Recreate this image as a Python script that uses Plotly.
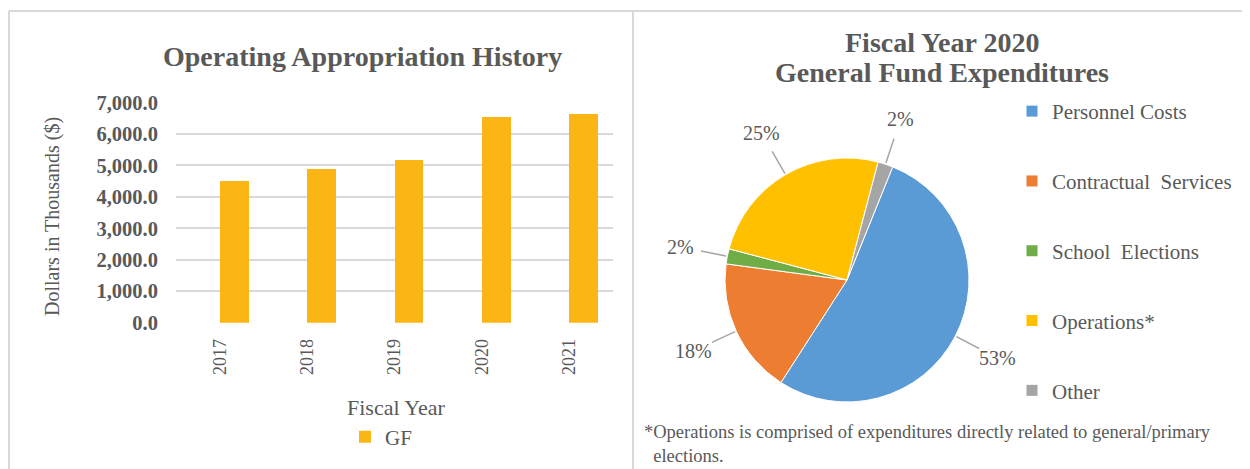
import math
import plotly.graph_objects as go

# ---------------- data ----------------
years = ["2017", "2018", "2019", "2020", "2021"]
gf_values = [4510, 4910, 5180, 6550, 6640]
bar_series_name = "GF"

pie_labels = ["Personnel Costs", "Contractual\u00a0 Services", "School\u00a0 Elections", "Operations*", "Other"]
pie_values = [53, 18, 2, 25, 2]
pie_colors = ["#5B9BD5", "#ED7D31", "#70AD47", "#FFC000", "#A5A5A5"]

y_ticks = [0, 1000, 2000, 3000, 4000, 5000, 6000, 7000]

bar_title = "Operating Appropriation History"
pie_title_1 = "Fiscal Year 2020"
pie_title_2 = "General Fund Expenditures"
footnote_1 = "*Operations is comprised of expenditures directly related to general/primary"
footnote_2 = "elections."

# ---------------- layout helpers ----------------
W, H = 1250, 469
OFF = 8  # page body margin of the html page
FONT = "Liberation Serif, Times New Roman, serif"
GRAY = "#595959"
BORDER = "#D9D9D9"


def px(x):
    return (x - OFF) / W


def py(y):
    return 1 - (y - OFF) / H


fig = go.Figure()

# bar chart
fig.add_trace(go.Bar(
    x=years, y=gf_values, name=bar_series_name,
    marker=dict(color="#FBB616", line=dict(width=0)),
    width=0.33, offset=0,
    legend="legend", showlegend=True,
    hoverinfo="x+y",
))

# pie chart
rotation = 22
cx, cy, r = 847, 280, 122
fig.add_trace(go.Pie(
    labels=pie_labels, values=pie_values, sort=False,
    direction="clockwise", rotation=rotation,
    marker=dict(colors=pie_colors, line=dict(color="white", width=1)),
    textinfo="none", showlegend=False,
    domain=dict(x=[px(cx - r), px(cx + r)], y=[py(cy + r), py(cy - r)]),
))

# legend entries for pie (one group each so they can be spaced)
for lab, col in zip(pie_labels, pie_colors):
    fig.add_trace(go.Scatter(
        x=[None], y=[None], mode="markers", name=lab,
        marker=dict(symbol="square", size=11, color=col),
        legend="legend2", legendgroup=lab, showlegend=True,
        xaxis="x2", yaxis="y2",
    ))

annotations = []
shapes = []

# pie percentage labels and leader lines computed from data
total = sum(pie_values)
cum = 0.0
for v in pie_values:
    mid = rotation + (cum + v / 2) / total * 360
    cum += v
    a = math.radians(mid)
    sx, sy = math.sin(a), -math.cos(a)
    lx, ly = cx + 1.39 * r * sx, cy + 1.39 * r * sy
    annotations.append(dict(
        x=px(lx), y=py(ly), xref="paper", yref="paper",
        text=f"{round(v / total * 100)}%", showarrow=False,
        font=dict(family=FONT, size=20, color=GRAY),
        xanchor="center", yanchor="middle",
    ))
    shapes.append(dict(
        type="line", xref="paper", yref="paper",
        x0=px(cx + 1.01 * r * sx), y0=py(cy + 1.01 * r * sy),
        x1=px(cx + 1.22 * r * sx), y1=py(cy + 1.22 * r * sy),
        line=dict(color="#A6A6A6", width=1.5),
    ))

# titles and text
annotations += [
    dict(x=px(363), y=py(57), text=f"<b>{bar_title}</b>", showarrow=False,
         xref="paper", yref="paper", xanchor="center", yanchor="middle",
         font=dict(family=FONT, size=28, color=GRAY)),
    dict(x=px(942), y=py(42), text=f"<b>{pie_title_1}</b>", showarrow=False,
         xref="paper", yref="paper", xanchor="center", yanchor="middle",
         font=dict(family=FONT, size=28, color=GRAY)),
    dict(x=px(942), y=py(72), text=f"<b>{pie_title_2}</b>", showarrow=False,
         xref="paper", yref="paper", xanchor="center", yanchor="middle",
         font=dict(family=FONT, size=28, color=GRAY)),
    dict(x=px(52), y=py(217), text="Dollars in Thousands ($)", showarrow=False,
         textangle=-90, xref="paper", yref="paper", xanchor="center", yanchor="middle",
         font=dict(family=FONT, size=20, color=GRAY)),
    dict(x=px(396), y=py(407), text="Fiscal Year", showarrow=False,
         xref="paper", yref="paper", xanchor="center", yanchor="middle",
         font=dict(family=FONT, size=22, color=GRAY)),
    dict(x=px(642), y=py(468),
         text=footnote_1 + "<br>\u00a0\u00a0" + footnote_2, showarrow=False,
         xref="paper", yref="paper", xanchor="left", yanchor="bottom", align="left",
         font=dict(family=FONT, size=18.5, color=GRAY)),
]

# panel frames
frame = dict(color=BORDER, width=2)
shapes += [
    dict(type="line", xref="paper", yref="paper", x0=px(9), y0=py(480), x1=px(9), y1=py(11), line=frame),
    dict(type="line", xref="paper", yref="paper", x0=px(9), y0=py(11), x1=px(1260), y1=py(11), line=frame),
    dict(type="line", xref="paper", yref="paper", x0=px(633), y0=py(480), x1=px(633), y1=py(11), line=frame),
]

fig.update_layout(
    width=W, height=H, autosize=False,
    margin=dict(l=0, r=0, t=0, b=0, autoexpand=False),
    paper_bgcolor="white", plot_bgcolor="white",
    font=dict(family=FONT, color=GRAY),
    xaxis=dict(
        domain=[px(176), px(613)], type="category",
        categoryorder="array", categoryarray=years,
        tickangle=-90, tickfont=dict(family=FONT, size=18, color=GRAY),
        ticks="outside", ticklen=8, tickcolor="rgba(0,0,0,0)",
        showgrid=False, showline=False, zeroline=False,
    ),
    yaxis=dict(
        domain=[py(322.7), py(102.5)], range=[0, 7000],
        tickvals=y_ticks, tickformat=",.1f",
        tickfont=dict(family=FONT, size=20.5, color=GRAY, weight="bold"),
        ticks="outside", ticklen=13, tickcolor="rgba(0,0,0,0)",
        showgrid=True, gridcolor=BORDER, gridwidth=2,
        zeroline=False, showline=False,
    ),
    xaxis2=dict(domain=[0.98, 0.99], visible=False, anchor="y2"),
    yaxis2=dict(domain=[0.98, 0.99], visible=False, anchor="x2"),
    legend=dict(
        x=px(345), y=py(437), xanchor="left", yanchor="middle",
        orientation="h", font=dict(family=FONT, size=21, color=GRAY),
        bgcolor="rgba(0,0,0,0)",
    ),
    legend2=dict(
        x=px(1012), y=py(91), xanchor="left", yanchor="top",
        orientation="v", font=dict(family=FONT, size=21, color=GRAY),
        tracegroupgap=39.5, bgcolor="rgba(0,0,0,0)",
    ),
    annotations=annotations,
    shapes=shapes,
    bargap=0,
)

fig.write_html("out.html")
